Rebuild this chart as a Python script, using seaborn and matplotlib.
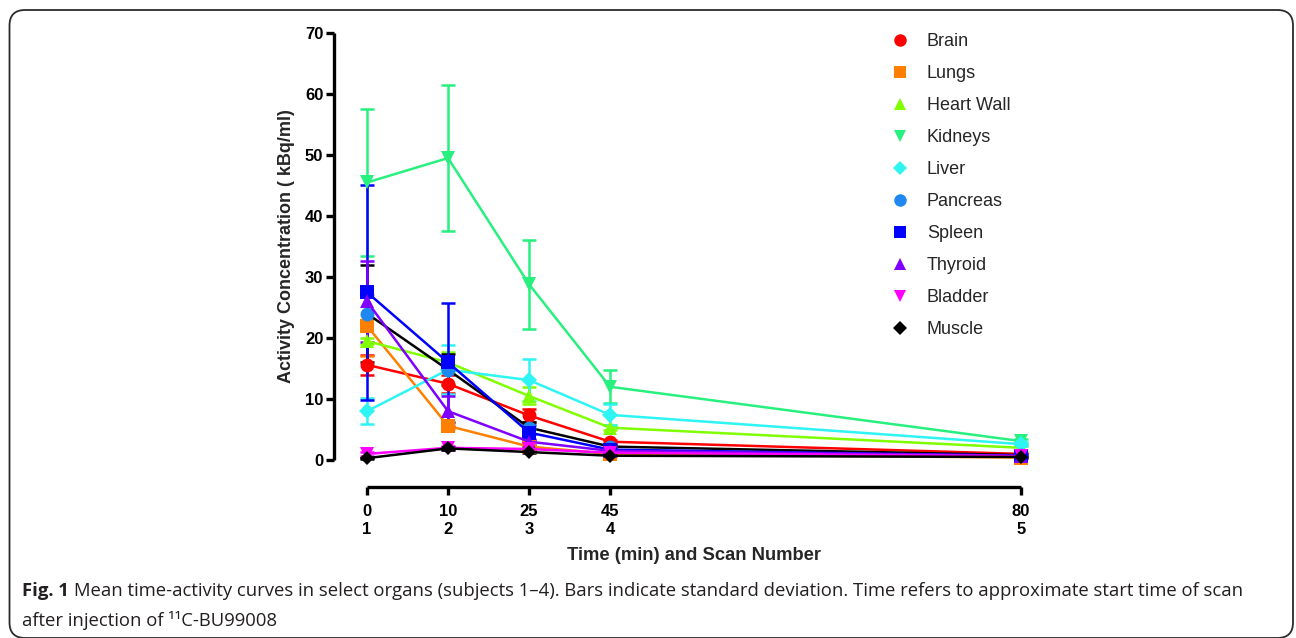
import numpy as np
import pandas as pd
import matplotlib
matplotlib.use("Agg")
import matplotlib.pyplot as plt
import seaborn as sns
from matplotlib.lines import Line2D
from matplotlib.patches import FancyBboxPatch

# ---------------- data ----------------
times = [0, 10, 25, 45, 80]
scan_numbers = [1, 2, 3, 4, 5]
organs = ["Brain", "Lungs", "Heart Wall", "Kidneys", "Liver",
          "Pancreas", "Spleen", "Thyroid", "Bladder", "Muscle"]

brain_mean = [15.6, 12.5, 7.3, 3.0, 1.0]
brain_sd = [1.6, 1.5, 1.0, 0.3, 0.2]
lungs_mean = [22.0, 5.6, 2.2, 1.0, 0.4]
lungs_sd = [5.0, 0.5, 0.4, 0.2, 0.1]
heart_mean = [19.5, 16.0, 10.5, 5.3, 2.0]
heart_sd = [0.5, 1.7, 1.4, 0.4, 0.3]
kidneys_mean = [45.5, 49.5, 28.8, 12.0, 3.1]
kidneys_sd = [12.0, 11.9, 7.3, 2.7, 0.4]
liver_mean = [8.0, 14.8, 13.1, 7.4, 2.6]
liver_sd = [2.1, 4.0, 3.4, 1.7, 0.3]
pancreas_mean = [24.0, 14.8, 5.3, 2.2, 0.8]
pancreas_sd = [8.0, 2.5, 1.0, 0.4, 0.2]
spleen_mean = [27.5, 16.0, 4.5, 1.7, 0.7]
spleen_sd = [17.6, 9.8, 1.2, 0.3, 0.1]
thyroid_mean = [26.0, 8.0, 3.0, 1.5, 0.7]
thyroid_sd = [6.6, 2.5, 0.5, 0.2, 0.1]
bladder_mean = [1.0, 2.0, 1.8, 1.2, 0.6]
bladder_sd = [0.3, 0.3, 0.2, 0.1, 0.1]
muscle_mean = [0.3, 1.9, 1.3, 0.7, 0.5]
muscle_sd = [0.1, 0.2, 0.2, 0.1, 0.1]

means = [brain_mean, lungs_mean, heart_mean, kidneys_mean, liver_mean,
         pancreas_mean, spleen_mean, thyroid_mean, bladder_mean, muscle_mean]
sds = [brain_sd, lungs_sd, heart_sd, kidneys_sd, liver_sd,
       pancreas_sd, spleen_sd, thyroid_sd, bladder_sd, muscle_sd]

y_ticks = [0, 10, 20, 30, 40, 50, 60, 70]
x_tick_labels = [f"{t}\n{s}" for t, s in zip(times, scan_numbers)]

# ---------------- styles ----------------
marker_colors = ["#FF0000", "#FF8000", "#80FF00", "#28F07E", "#2EF4F4",
                 "#1E88F0", "#0000FF", "#7F00FF", "#FF00FF", "#000000"]
line_colors = ["#FF0000", "#FF8000", "#80FF00", "#28F07E", "#2EF4F4",
               "#000000", "#0000FF", "#7F00FF", "#FF00FF", "#000000"]
marker_shapes = ["o", "s", "^", "v", "D", "o", "s", "^", "v", "D"]
marker_sizes = [10, 9.5, 10, 10, 8, 10, 9.5, 10, 10, 7.5]

sns.set_theme(style="ticks")
plt.rcParams["font.family"] = ["Liberation Sans", "DejaVu Sans"]

W, H = 1296, 638
fig = plt.figure(figsize=(W / 100, H / 100), dpi=100)
ax = fig.add_axes([367 / W, 1 - 460 / H, (1021 - 367) / W, (460 - 33) / H])

# piecewise-linear time scale (matches the original axis spacing)
_t_knots = [0, 10, 25, 45, 80]
_p_knots = [0, 1, 2, 3, 8.07]


def fwd(t):
    return np.interp(t, _t_knots, _p_knots)


def inv(p):
    return np.interp(p, _p_knots, _t_knots)


ax.set_xscale("function", functions=(fwd, inv))

rows = []
for org, m, s in zip(organs, means, sds):
    for t, v, e in zip(times, m, s):
        rows.append({"organ": org, "time": t, "mean": v, "sd": e})
df = pd.DataFrame(rows)

for i, org in enumerate(organs):
    d = df[df["organ"] == org]
    ax.errorbar(d["time"], d["mean"], yerr=d["sd"], fmt="none",
                ecolor=marker_colors[i] if org != "Pancreas" else "#000000",
                elinewidth=1.8, capsize=4.8, capthick=1.8, clip_on=False,
                zorder=2 + i * 0.1)
    sns.lineplot(data=d, x="time", y="mean", ax=ax, color=line_colors[i],
                 linewidth=1.8, marker=marker_shapes[i],
                 markersize=marker_sizes[i],
                 markerfacecolor=marker_colors[i],
                 markeredgecolor=marker_colors[i], markeredgewidth=0,
                 clip_on=False, zorder=3 + i * 0.1, legend=False,
                 errorbar=None)

ax.set_xlim(0, 80)
ax.set_ylim(0, 70)
ax.set_xticks(times)
ax.set_xticklabels(x_tick_labels, linespacing=1.4)
ax.set_yticks(y_ticks)
ax.xaxis.set_minor_locator(matplotlib.ticker.NullLocator())

for sp in ["top", "right"]:
    ax.spines[sp].set_visible(False)
ax.spines["left"].set_position(("outward", 23.5))
ax.spines["bottom"].set_position(("outward", 19.5))
for sp in ["left", "bottom"]:
    ax.spines[sp].set_linewidth(2.4)
    ax.spines[sp].set_color("black")
    ax.spines[sp].set_capstyle("butt")

ax.tick_params(axis="both", direction="out", width=2.4, length=6,
               color="black", labelsize=12, labelcolor="black")
ax.tick_params(axis="x", pad=6.5)
ax.tick_params(axis="y", pad=2)
for lab in ax.get_xticklabels() + ax.get_yticklabels():
    lab.set_fontweight("bold")

ax.set_xlabel("Time (min) and Scan Number", fontsize=13.2, fontweight="bold",
              labelpad=7)
ax.set_ylabel("Activity Concentration ( kBq/ml)", fontsize=13,
              fontweight="bold", labelpad=7)
ax.set_facecolor("white")
ax.grid(False)

# legend (markers only)
handles = [Line2D([], [], linestyle="none", marker=marker_shapes[i],
                  markersize=marker_sizes[i] * 0.9,
                  markerfacecolor=marker_colors[i],
                  markeredgecolor=marker_colors[i], markeredgewidth=0)
           for i in range(len(organs))]
fig.legend(handles, organs, loc="upper left",
           bbox_to_anchor=(889 / W, 1 - 33 / H), frameon=False,
           fontsize=13, handlelength=1.2, handletextpad=0.9,
           labelspacing=0.83, borderpad=0, borderaxespad=0)

# frame
frame = FancyBboxPatch((9.5 / W, 0 / H), (1293 - 9.5) / W, (628 - 0) / H,
                       boxstyle="round,pad=0,rounding_size=0.012",
                       transform=fig.transFigure, fill=False,
                       edgecolor="#2b2b2b", linewidth=1.3, clip_on=False,
                       mutation_aspect=W / H)
fig.patches.append(frame)

# caption
cap_font = ["Open Sans", "DejaVu Sans"]
cap_size = 13.3
t1 = fig.text(22 / W, 1 - 591 / H, "Fig. 1", fontsize=cap_size,
              fontweight="bold", family=cap_font, va="center", ha="left",
              color="#231f20")
fig.canvas.draw()
bb = t1.get_window_extent()
fig.text((bb.x1 + 5) / W, 1 - 591 / H,
         "Mean time-activity curves in select organs (subjects 1–4). Bars "
         "indicate standard deviation. Time refers to approximate start time of scan",
         fontsize=cap_size, family=cap_font, va="center", ha="left",
         color="#231f20")
fig.text(22 / W, 1 - 620 / H, "after injection of ¹¹C-BU99008",
         fontsize=cap_size, family=cap_font, va="center", ha="left",
         color="#231f20")

fig.savefig("out.png", dpi=100, facecolor="white")
